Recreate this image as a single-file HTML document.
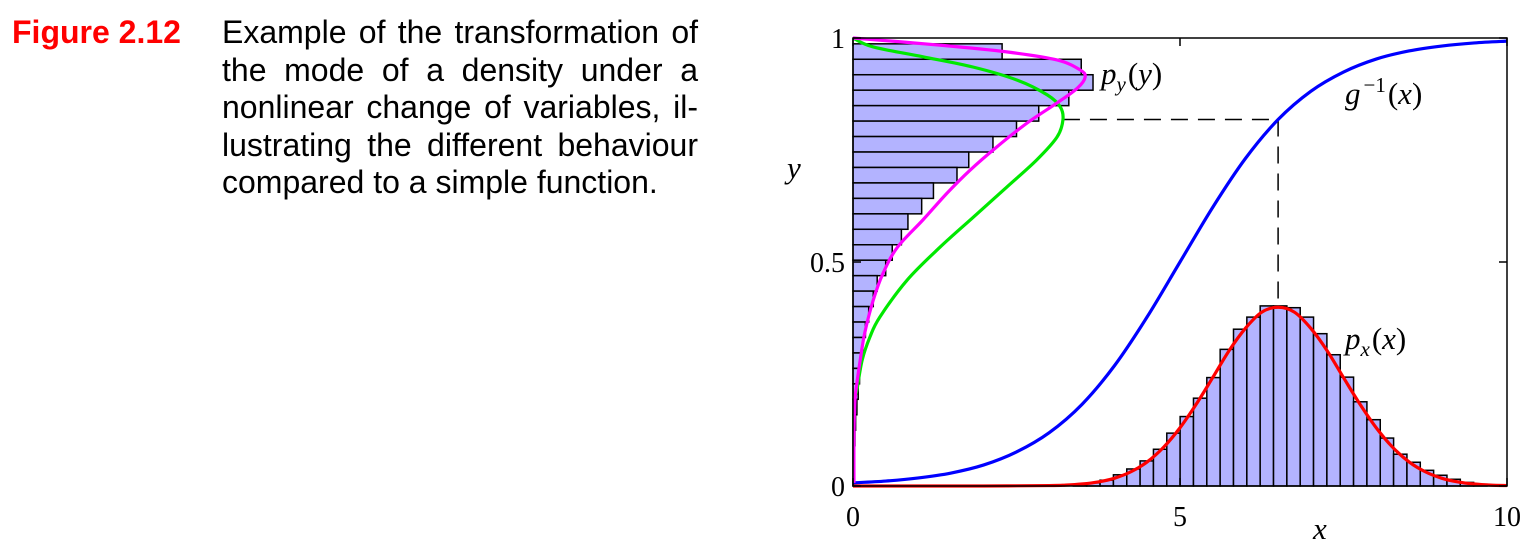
<!DOCTYPE html>
<html><head><meta charset="utf-8">
<style>
html,body{margin:0;padding:0;background:#fff;}
body{width:1537px;height:549px;position:relative;overflow:hidden;font-family:"Liberation Sans",sans-serif;}
#fig{position:absolute;left:12px;top:14px;font-size:32px;line-height:37.5px;font-weight:bold;color:#ff0000;}
#cap{position:absolute;left:222px;top:14px;width:476px;font-size:32px;line-height:37.5px;color:#000;}
#cap span{display:block;white-space:nowrap;text-align:justify;text-align-last:justify;}
#cap span.last{text-align-last:left;}
svg{position:absolute;left:0;top:0;}
.lbl{font-family:"Liberation Serif",serif;font-size:28px;}
.it{font-family:"Liberation Serif",serif;font-style:italic;font-size:31px;}
</style></head><body>
<div id="fig">Figure 2.12</div>
<div id="cap">
<span>Example of the transformation of</span>
<span>the mode of a density under a</span>
<span>nonlinear change of variables, il-</span>
<span>lustrating the different behaviour</span>
<span class="last">compared to a simple function.</span>
</div>
<svg id="chart" width="1537" height="549">
<g id="xh"></g>
<g id="yh"></g>
<g id="lines"></g>
<g id="axes"></g>
</svg>
<script>
// x-histogram
const xBinStart = 3.37;
const xBinWidth = 0.204;
const xBinValues = [0.003,0.007,0.013,0.025,0.038,0.056,0.082,0.118,0.155,0.196,0.242,0.305,0.350,0.377,0.402,0.402,0.398,0.377,0.340,0.293,0.243,0.188,0.148,0.107,0.071,0.053,0.035,0.024,0.015,0.008,0.004];
// y-histogram (bins from top)
const yBinTop = 0.987;
const yBinWidth = 0.0345;
const yBinValues = [2.28,3.49,3.67,3.30,2.84,2.50,2.14,1.77,1.59,1.23,1.05,0.84,0.74,0.60,0.50,0.37,0.31,0.24,0.19,0.15,0.12,0.10,0.08,0.06,0.04,0.03,0.02,0.012,0.006];
// red p_x(x)
const pxX = [0,1,2,3,3.25,3.5,3.75,4,4.25,4.5,4.75,5,5.25,5.5,5.75,6,6.25,6.5,6.75,7,7.25,7.5,7.75,8,8.25,8.5,8.75,9,9.25,9.5,9.75,10];
const pxY = [0,0,0,0.001,0.002,0.0044,0.0091,0.0175,0.0318,0.054,0.0866,0.13,0.183,0.242,0.302,0.352,0.388,0.399,0.388,0.352,0.302,0.242,0.183,0.13,0.0866,0.054,0.0318,0.0175,0.0091,0.0044,0.002,0.001];
// blue g^-1(x)
const gX = [0,0.5,1,1.5,2,2.5,3,3.5,4,4.5,5,5.5,6,6.5,7,7.5,8,8.5,9,9.5,10];
const gY = [0.007,0.011,0.018,0.029,0.047,0.076,0.119,0.182,0.269,0.378,0.5,0.622,0.731,0.818,0.881,0.924,0.953,0.971,0.982,0.989,0.993];
// magenta p_y(y)
const pyY = [1.0,0.984,0.969,0.951,0.929,0.913,0.888,0.855,0.810,0.757,0.705,0.654,0.594,0.533,0.475,0.415,0.342,0.281,0.230,0.192,0.118,0.007];
const pyV = [0,1.33,2.35,3.12,3.47,3.55,3.43,3.12,2.66,2.20,1.79,1.44,1.07,0.68,0.46,0.31,0.18,0.11,0.06,0.03,0.015,0.015];
// green p_x(g(y))
const grY = [1.0,0.980,0.958,0.935,0.906,0.873,0.846,0.817,0.779,0.728,0.667,0.600,0.533,0.460,0.377,0.333,0.281,0.214,0.176,0.007];
const grV = [0,0.31,1.07,1.84,2.51,2.97,3.17,3.21,3.12,2.81,2.35,1.84,1.33,0.83,0.41,0.26,0.14,0.06,0.015,0.01];
const xTicks = [0,5,10];
const xTickLabels = ["0","5","10"];
const yTicks = [0,0.5,1];
const yTickLabels = ["0","0.5","1"];
const dashX = 6.5, dashY = 0.818;

const X0=853,X1=1507,Y0=486,Y1=38;
const sx=v=>X0+(v/10)*(X1-X0);
const sy=v=>Y0-v*(Y0-Y1);
const NS="http://www.w3.org/2000/svg";
function mk(tag,attrs,parent){const e=document.createElementNS(NS,tag);for(const k in attrs)e.setAttribute(k,attrs[k]);parent.appendChild(e);return e;}
const xh=document.getElementById('xh'),yh=document.getElementById('yh'),ln=document.getElementById('lines'),ax=document.getElementById('axes');

xBinValues.forEach((v,i)=>{
  const a=sx(xBinStart+i*xBinWidth),b=sx(xBinStart+(i+1)*xBinWidth);
  const r=mk('rect',{x:a,y:sy(v),width:b-a,height:sy(0)-sy(v),fill:'#b3b3ff',stroke:'#000','stroke-width':1.5},xh);
  
  
});
yBinValues.forEach((v,i)=>{
  const top=yBinTop-i*yBinWidth,bot=Math.max(0,top-yBinWidth);
  const r=mk('rect',{x:sx(0),y:sy(top),width:sx(v)-sx(0),height:sy(bot)-sy(top),fill:'#b3b3ff',stroke:'#000','stroke-width':1.5},yh);
  
  
});
function smooth(pts){
  let d='M'+pts[0][0]+','+pts[0][1];
  for(let i=0;i<pts.length-1;i++){
    const p0=pts[Math.max(0,i-1)],p1=pts[i],p2=pts[i+1],p3=pts[Math.min(pts.length-1,i+2)];
    const c1=[p1[0]+(p2[0]-p0[0])/6,p1[1]+(p2[1]-p0[1])/6];
    const c2=[p2[0]-(p3[0]-p1[0])/6,p2[1]-(p3[1]-p1[1])/6];
    d+=' C'+c1[0]+','+c1[1]+' '+c2[0]+','+c2[1]+' '+p2[0]+','+p2[1];
  }
  return d;
}
function curve(xs,ys,color,name){
  const pts=xs.map((x,i)=>[sx(x),sy(ys[i])]);
  const p=mk('path',{d:smooth(pts),fill:'none',stroke:color,'stroke-width':3.2,'stroke-linejoin':'round'},ln);
  
  
}
const dh=mk('line',{x1:sx(3.21),y1:sy(dashY),x2:sx(dashX),y2:sy(dashY),stroke:'#000','stroke-width':1.5,'stroke-dasharray':'17,10'},ln);


const dv=mk('line',{x1:sx(dashX),y1:sy(dashY),x2:sx(dashX),y2:sy(0.4),stroke:'#000','stroke-width':1.5,'stroke-dasharray':'17,10'},ln);


curve(gX,gY,'#0000ff','g-inverse-curve');
curve(pxX,pxY,'#ff0000','px-curve');
curve(grV,grY,'#00e800','green-curve');
curve(pyV,pyY,'#ff00ff','py-curve');
const fr=mk('rect',{x:X0,y:Y1,width:X1-X0,height:Y0-Y1,fill:'none',stroke:'#000','stroke-width':1.5},ax);


xTicks.forEach((t,i)=>{
  const x=sx(t);
  mk('line',{x1:x,y1:Y0,x2:x,y2:Y0-8,stroke:'#000','stroke-width':1.5},ax);
  mk('line',{x1:x,y1:Y1,x2:x,y2:Y1+8,stroke:'#000','stroke-width':1.5},ax);
  const tx=mk('text',{x:x,y:526,'text-anchor':'middle',class:'lbl'},ax);
  tx.textContent=xTickLabels[i];
  
  
});
yTicks.forEach((t,i)=>{
  const y=sy(t);
  mk('line',{x1:X0,y1:y,x2:X0+8,y2:y,stroke:'#000','stroke-width':1.5},ax);
  mk('line',{x1:X1,y1:y,x2:X1-8,y2:y,stroke:'#000','stroke-width':1.5},ax);
  const tx=mk('text',{x:845,y:y+10,'text-anchor':'end',class:'lbl'},ax);
  tx.textContent=yTickLabels[i];
  
  
});
</script>
<svg width="1537" height="549" style="pointer-events:none">
<text x="1313" y="539" class="it">x</text>
<text x="787" y="178" class="it">y</text>
<text x="1101" y="84" class="it">p<tspan font-size="21" dy="7">y</tspan><tspan dy="-7" font-style="normal" dx="2">(</tspan>y<tspan font-style="normal">)</tspan></text>
<text x="1345" y="104" class="it">g<tspan font-size="21" dy="-12" font-style="normal" dx="3">−1</tspan><tspan dy="12" font-style="normal" dx="2">(</tspan>x<tspan font-style="normal">)</tspan></text>
<text x="1345" y="349" class="it">p<tspan font-size="21" dy="7">x</tspan><tspan dy="-7" font-style="normal" dx="2">(</tspan>x<tspan font-style="normal">)</tspan></text>
</svg>
</body></html>
